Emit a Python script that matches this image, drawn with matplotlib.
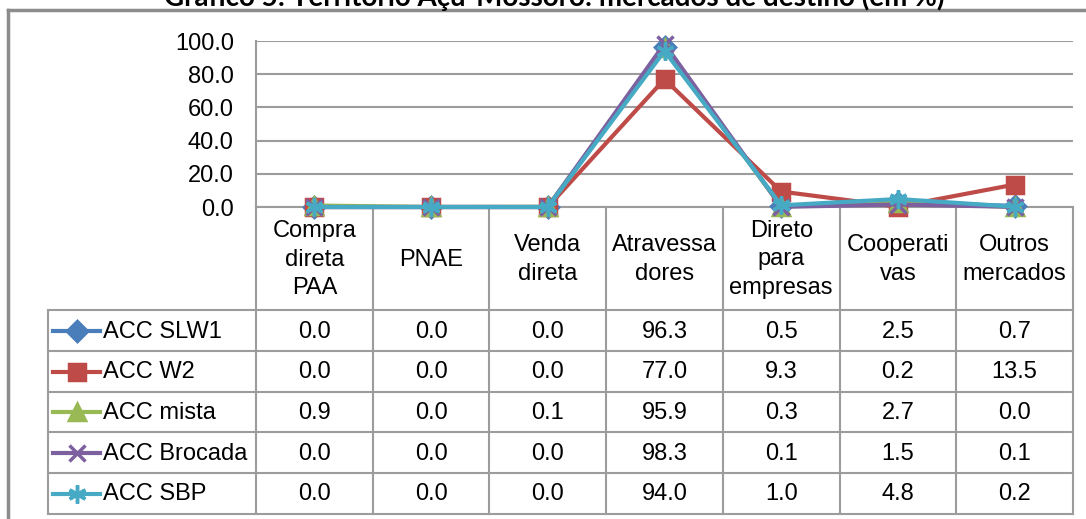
import matplotlib.pyplot as plt

#%% Data
categories = ['Compra\ndireta\nPAA', 'PNAE', 'Venda\ndireta', 'Atravessa\ndores',
              'Direto\npara\nempresas', 'Cooperati\nvas', 'Outros\nmercados']
series_names = ['ACC SLW1', 'ACC W2', 'ACC mista', 'ACC Brocada', 'ACC SBP']
acc_slw1 = [0.0, 0.0, 0.0, 96.3, 0.5, 2.5, 0.7]
acc_w2 = [0.0, 0.0, 0.0, 77.0, 9.3, 0.2, 13.5]
acc_mista = [0.9, 0.0, 0.1, 95.9, 0.3, 2.7, 0.0]
acc_brocada = [0.0, 0.0, 0.0, 98.3, 0.1, 1.5, 0.1]
acc_sbp = [0.0, 0.0, 0.0, 94.0, 1.0, 4.8, 0.2]
series_values = [acc_slw1, acc_w2, acc_mista, acc_brocada, acc_sbp]
yticks = [0, 20, 40, 60, 80, 100]
title = 'Gráfico 5: Território Açu-Mossoró: mercados de destino (em %)'

colors = ['#4a7ebb', '#be4b48', '#98b954', '#7d60a0', '#46aac5']
markers = ['D', 's', '^', 'x', (6, 2, 0)]
msizes = [10, 12, 12, 12, 13]

#%% Layout (pixels)
W, H = 1086, 519
left, right, top, bottom = 256, 1073, 41, 207
rows_y = [310, 351, 392, 432, 473, 514]
leg_left = 48
grid_c = '#9c9c9c'
fs = 17
plt.rcParams['font.family'] = ['Liberation Sans', 'DejaVu Sans']

fig = plt.figure(figsize=(W / 100, H / 100), dpi=100)

# overlay in pixel coords for table + frame
ov = fig.add_axes([0, 0, 1, 1])
ov.set_xlim(0, W)
ov.set_ylim(H, 0)
ov.axis('off')

ax = fig.add_axes([left / W, 1 - bottom / H, (right - left) / W, (bottom - top) / H])
ax.set_zorder(5)
ax.patch.set_alpha(0)

x = list(range(len(categories)))
for name, vals, c, m, ms in zip(series_names, series_values, colors, markers, msizes):
    ax.plot(x, vals, color=c, lw=3, marker=m, markersize=ms, mew=2.5,
            mfc=c, mec=c, clip_on=False, label=name)

ax.set_xlim(-0.5, len(categories) - 0.5)
ax.set_ylim(0, 100)
ax.set_yticks(yticks)
ax.set_yticklabels([f'{v:.1f}' for v in yticks], fontsize=fs)
ax.set_xticks([])
ax.tick_params(axis='y', length=0, pad=16)
ax.grid(axis='y', color=grid_c, lw=1.5)
ax.set_axisbelow(True)
for s in ['top', 'right', 'bottom']:
    ax.spines[s].set_visible(False)
ax.spines['left'].set_color(grid_c)
ax.spines['left'].set_linewidth(1.5)

# table grid
col_w = (right - left) / len(categories)
col_x = [left + i * col_w for i in range(len(categories) + 1)]
ov.plot([left, right], [bottom, bottom], color=grid_c, lw=1.5)
for yy in rows_y:
    ov.plot([leg_left, right], [yy, yy], color=grid_c, lw=1.5)
for xx in col_x:
    ov.plot([xx, xx], [bottom, rows_y[-1]], color=grid_c, lw=1.5)
ov.plot([leg_left, leg_left], [rows_y[0], rows_y[-1]], color=grid_c, lw=1.5)

# header labels
for i, cat in enumerate(categories):
    ov.text(col_x[i] + col_w / 2, (bottom + rows_y[0]) / 2 + 1, cat, ha='center',
            va='center', fontsize=fs, linespacing=1.4)

# rows: legend key + values
for r, (name, vals, c, m, ms) in enumerate(zip(series_names, series_values,
                                               colors, markers, msizes)):
    yc = (rows_y[r] + rows_y[r + 1]) / 2
    ov.plot([53, 100], [yc, yc], color=c, lw=3)
    ov.plot([76.5], [yc], color=c, marker=m, markersize=ms, mew=2.5, mfc=c, mec=c)
    ov.text(103, yc + 1, name, ha='left', va='center', fontsize=fs)
    for i, v in enumerate(vals):
        ov.text(col_x[i] + col_w / 2, yc + 1, f'{v:.1f}', ha='center',
                va='center', fontsize=fs)

# chart frame (partly cut off)
ov.plot([8, W], [10, 10], color='#8c8c8c', lw=2.5)
ov.plot([8, 8], [10, H], color='#8c8c8c', lw=2.5)

fig.text(554 / W, 1 - 6 / H, title, ha='center', va='baseline', fontsize=20,
         fontweight='bold', family=['Lato', 'DejaVu Sans'])

fig.savefig('out.png', dpi=100)
